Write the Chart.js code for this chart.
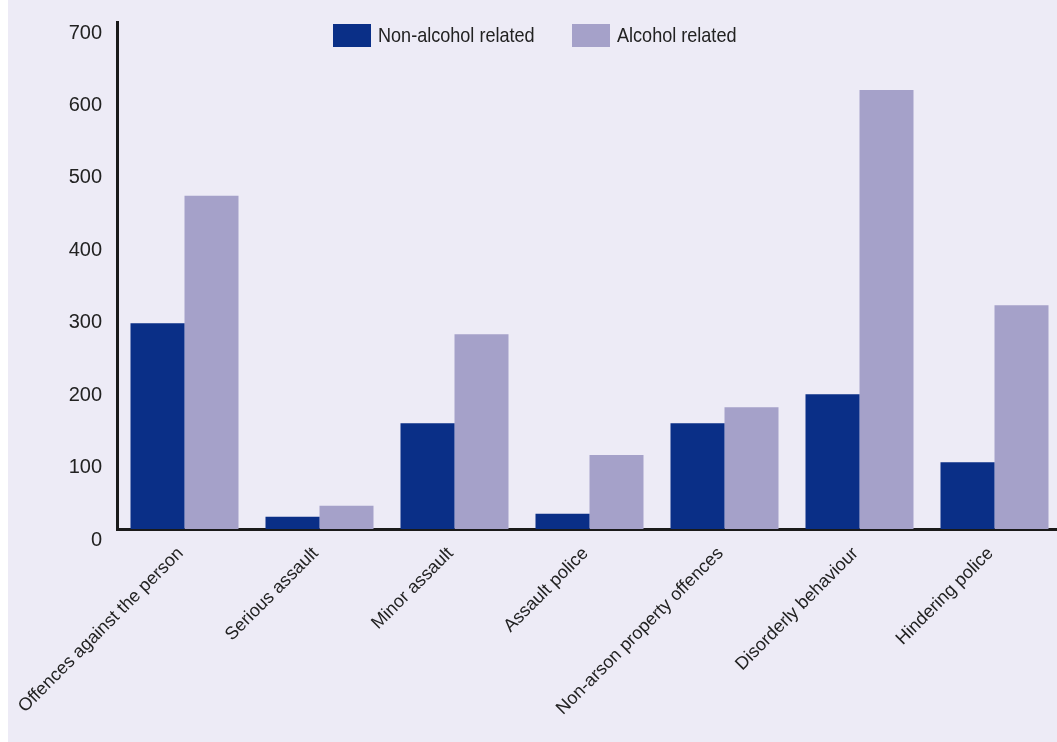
<!DOCTYPE html>
<html>
<head>
<meta charset="utf-8">
<script src="https://cdn.jsdelivr.net/npm/chart.js@4.4.1/dist/chart.umd.min.js"></script>
<style>
  html, body { margin: 0; padding: 0; background: #ffffff; }
  #wrap {
    position: absolute; left: 8px; top: 0;
    width: 1049px; height: 742px;
    background: #edebf6; overflow: hidden;
  }
  #chartBox { position: absolute; left: 0; top: 0; width: 1060px; height: 742px; }
  #legend {
    position: absolute; top: 0; left: 0;
    font-family: "Liberation Sans", Arial, sans-serif;
    font-size: 21px; color: #222;
  }
  #legend .swatch { position: absolute; top: 24px; width: 38px; height: 23px; }
  #legend .label {
    position: absolute; top: 23px; white-space: nowrap; line-height: 24px;
    transform: scaleX(0.86); transform-origin: left center;
  }
</style>
</head>
<body>
<div id="wrap">
  <div id="chartBox"><canvas id="barChart"></canvas></div>
  <div id="legend"></div>
</div>
<script>
const categories = [
  'Offences against the person',
  'Serious assault',
  'Minor assault',
  'Assault police',
  'Non-arson property offences',
  'Disorderly behaviour',
  'Hindering police',
];
const nonAlcohol = [284, 17, 146, 21, 146, 186, 92];
const alcohol = [460, 32, 269, 102, 168, 606, 309];
const yTicks = [0, 100, 200, 300, 400, 500, 600, 700];

const DARK = '#0a2f87';
const LIGHT = '#a5a1c9';
const FONT = '"Liberation Sans", Arial, sans-serif';

const ctx = document.getElementById('barChart');
const chart = new Chart(ctx, {
  type: 'bar',
  data: {
    labels: categories,
    datasets: [
      { label: 'Non-alcohol related', data: nonAlcohol, backgroundColor: DARK },
      { label: 'Alcohol related', data: alcohol, backgroundColor: LIGHT },
    ],
  },
  options: {
    responsive: true,
    maintainAspectRatio: false,
    animation: false,
    categoryPercentage: 0.8,
    barPercentage: 1.0,
    layout: { autoPadding: false, padding: { top: 22, right: 6, left: 0, bottom: 0 } },
    plugins: {
      legend: { display: false },
      tooltip: { enabled: false },
    },
    scales: {
      x: {
        grid: { display: false, drawTicks: false },
        border: { display: true, color: '#1a1a1a', width: 3 },
        ticks: {
          color: '#222',
          font: { family: FONT, size: 18 },
          maxRotation: 45,
          minRotation: 45,
          padding: 14,
          labelOffset: -4,
          autoSkip: false,
        },
        afterFit: (scale) => {
          scale.height = 213;
          scale.paddingLeft = 0;
          scale.paddingRight = 0;
        },
      },
      y: {
        min: 0,
        max: 700,
        grid: { display: false, drawTicks: false },
        border: { display: true, color: '#1a1a1a', width: 3 },
        afterBuildTicks: (scale) => { scale.ticks = yTicks.map(v => ({ value: v })); },
        ticks: {
          color: '#222',
          font: { family: FONT, size: 20 },
          padding: 15,
          labelOffset: 11,
        },
        afterFit: (scale) => {
          scale.width = 109;
          scale.paddingTop = 0;
          scale.paddingBottom = 0;
        },
      },
    },
  },
});

// legend drawn as html text, positions
const legendEl = document.getElementById('legend');
const legendX = [325, 564];
chart.data.datasets.forEach((ds, i) => {
  const sw = document.createElement('span');
  sw.className = 'swatch';
  sw.style.left = legendX[i] + 'px';
  sw.style.background = ds.backgroundColor;
  const txt = document.createElement('span');
  txt.className = 'label';
  txt.style.left = (legendX[i] + 45) + 'px';
  txt.textContent = ds.label;
  legendEl.appendChild(sw);
  legendEl.appendChild(txt);
});
</script>
</body>
</html>
